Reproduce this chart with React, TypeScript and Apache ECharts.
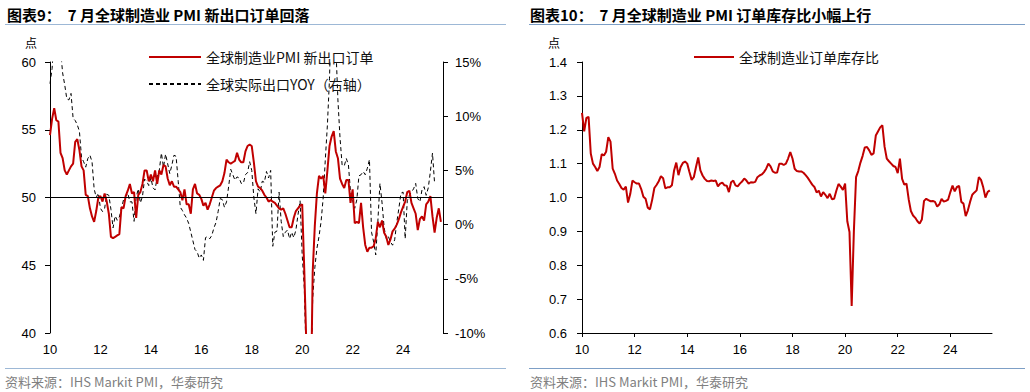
import React, { useEffect, useRef } from "react";
import * as echarts from "echarts";

// ---------- data ----------
const startYear = 2010;
const monthCount = 188; // Jan 2010 .. Aug 2025 (last slot is axis padding)
const months: string[] = [];
for (let k = 0; k < monthCount; k++) {
  const y = startYear + Math.floor(k / 12);
  const m = (k % 12) + 1;
  months.push(`${y}-${m < 10 ? "0" + m : m}`);
}

// 全球制造业PMI 新出口订单 (点), Jan 2010 – Jul 2025
const pmiNewExportOrders = [
  54.6, 55.8, 56.6, 55.7, 55.6, 53.3, 52.9, 52.0, 51.7, 52.0, 52.3, 52.5,
  54.1, 54.3, 53.5, 52.3, 52.0, 50.2, 50.1, 49.2, 48.6, 48.2, 49.0, 50.0,
  50.1, 49.7, 50.3, 49.7, 48.8, 47.1, 47.0, 47.1, 47.2, 47.3, 49.3, 49.2,
  50.1, 50.5, 51.0, 50.3, 50.4, 48.5, 50.2, 50.4, 51.0, 52.0, 52.0, 51.2,
  51.7, 51.2, 52.0, 51.0, 52.0, 51.7, 52.4, 52.3, 51.4, 50.9, 51.2, 50.8,
  50.8, 50.6, 50.4, 49.8, 50.6, 49.5, 49.5, 48.8, 50.6, 51.0, 50.3, 50.2,
  49.9, 49.4, 49.6, 49.1, 49.5, 50.0, 50.5, 50.7, 50.8, 50.9, 51.2, 51.8,
  52.8, 52.6, 52.5, 52.6, 52.7, 53.3, 52.8, 52.6, 52.6, 53.4, 53.8, 53.9,
  53.8, 52.6, 51.2, 50.8, 50.7, 50.5, 50.2, 50.0, 49.7, 49.8, 49.7, 49.6,
  49.4, 49.2, 49.1, 49.2, 48.8, 48.3, 47.8, 47.8, 48.5, 49.0, 49.2, 49.4,
  49.5, 44.6, 39.0, 28.5, 33.5, 44.5, 47.9, 50.3, 51.6, 51.4, 51.6, 50.3,
  52.0, 53.8, 54.5, 54.9, 53.4, 52.9, 51.4, 51.0, 50.7, 51.3, 51.3, 49.6,
  50.6, 48.1, 48.2, 48.1, 49.6, 47.8, 46.5, 46.0, 46.3, 46.3, 46.4, 47.0,
  48.2, 47.8, 48.3, 47.4, 47.1, 46.5, 46.9, 47.5, 47.7, 48.0, 48.4, 48.9,
  49.3, 49.7, 50.4, 50.5, 49.6, 49.2, 48.8, 47.6, 48.4, 48.6, 48.3, 49.5,
  49.7, 50.1, 48.6, 47.4, 48.5, 49.2, 48.2,
];

// 全球实际出口YOY (%), Jan 2010 – Apr 2025
const realExportYoY = [
  13.0, 14.4, 17.5, 18.0, 17.0, 16.2, 14.0, 12.9, 11.6, 11.5, 12.1, 9.8,
  9.6, 9.2, 8.6, 6.2, 5.8, 5.3, 6.1, 6.4, 5.8, 3.3, 2.5, 2.9,
  1.5, 1.2, 1.5, 2.8, 2.7, 1.4, -0.3, 0.8, 0.4, 0.7, 1.5, 2.3,
  2.6, 2.9, 2.1, 2.1, 0.3, 2.5, 3.3, 2.0, 2.6, 4.2, 4.0, 3.6,
  4.3, 3.4, 3.2, 4.4, 5.0, 6.6, 5.3, 6.5, 5.6, 4.7, 5.5, 6.4,
  6.3, 4.0, 1.6, 1.3, 0.9, 0.6, 0.1, -0.7, -1.5, -2.3, -2.5, -3.1,
  -2.8, -3.3, -1.2, -1.1, -1.3, -1.0, -0.3, 0.2, 1.2, 2.4, 2.3, 1.6,
  2.1, 3.5, 5.1, 4.6, 4.1, 4.4, 4.3, 3.8, 3.8, 4.6, 4.8, 5.8,
  5.0, 2.5, 1.0, 3.3, 3.0, 4.0, 3.9, 4.9, 4.3, 5.0, -2.0, -0.7,
  -0.6, 3.0, 0.3, -1.1, -0.7, -0.5, -1.3, -0.7, -1.2, -0.5, 0.9, 2.2,
  -2.8, -5.8, -13.0, -19.0, -16.0, -6.8, -4.0, -2.2, -1.1, 0.3, 2.5, 6.0,
  9.2, 13.5, 21.0, 27.0, 16.5, 11.5, 8.0, 5.5, 5.4, 6.1, 5.5, 3.0,
  2.2, 1.5, 2.3, 4.5, 4.6, 4.9, 4.6, 5.2, 6.0, -0.7, -1.6, -2.8,
  0.3, 3.8, 2.0, -0.3, -1.3, -1.1, -1.6, -1.9, -1.4, 0.2, 1.5, 2.9,
  3.0, -1.3, 2.2, 2.7, 3.0, 3.3, 3.8, 2.4, 2.1, 3.2, 3.5, 2.7,
  3.4, 4.9, 6.6, 3.8,
];

// 全球制造业订单库存比, Jan 2010 – Jul 2025
const orderInventoryRatio = [
  1.25, 1.195, 1.235, 1.238, 1.13, 1.1, 1.09, 1.078, 1.09, 1.128, 1.124, 1.135,
  1.178, 1.165, 1.085, 1.07, 1.05, 1.04, 1.028, 1.023, 1.032, 0.985, 1.01, 1.05,
  1.045, 1.041, 1.041, 1.025, 1.002, 0.996, 0.97, 0.965, 0.993, 1.028, 1.037, 1.048,
  1.063, 1.057, 1.027, 1.03, 1.03, 1.036, 1.08, 1.103, 1.066, 1.09, 1.102, 1.106,
  1.1, 1.075, 1.052, 1.06, 1.09, 1.118, 1.08, 1.065, 1.055, 1.049, 1.048, 1.05,
  1.049, 1.05, 1.033, 1.041, 1.044, 1.036, 1.035, 1.016, 1.045, 1.05, 1.036, 1.033,
  1.041, 1.047, 1.056, 1.05, 1.041, 1.045, 1.044, 1.046, 1.06, 1.065, 1.068, 1.075,
  1.085, 1.1, 1.092, 1.077, 1.073, 1.074, 1.1, 1.1, 1.096, 1.1, 1.115, 1.134,
  1.115, 1.085, 1.078, 1.077, 1.077, 1.073, 1.066, 1.058, 1.048, 1.038, 1.031, 1.015,
  1.02, 1.003, 1.016, 1.008, 0.998, 1.011, 0.995, 0.996, 1.02, 1.04, 1.032, 1.022,
  1.041, 0.93, 0.898, 0.68, 0.9, 1.06, 1.078, 1.103, 1.123, 1.148, 1.149, 1.139,
  1.126, 1.13, 1.183, 1.195, 1.207, 1.213, 1.15, 1.115, 1.107, 1.1, 1.093, 1.09,
  1.072, 1.115, 1.055, 1.038, 1.041, 0.995, 0.96, 0.947, 0.94, 0.93, 0.923, 0.935,
  0.99, 0.996, 0.992, 0.989, 0.99, 0.987, 0.973, 0.98, 0.996, 0.988, 0.99, 0.994,
  1.016, 1.035, 1.018, 1.031, 1.034, 0.987, 0.982, 0.945, 0.962, 0.987, 1.008, 1.015,
  1.021, 1.06, 1.052, 1.03, 1.0, 1.016, 1.021,
];

const leftTitle = "图表9：  7 月全球制造业 PMI 新出口订单回落";
const rightTitle = "图表10：  7 月全球制造业 PMI 订单库存比小幅上行";
const sourceText = "资料来源：IHS Markit PMI，华泰研究";
const pmiName = "全球制造业PMI 新出口订单";
const yoyName = "全球实际出口YOY（右轴）";
const ratioName = "全球制造业订单库存比";

const RED = "#C00000";
const FONT = '"Liberation Sans", Arial, "Noto Sans CJK SC", sans-serif';
const CJK = '"Noto Sans CJK SC", "Liberation Sans", sans-serif';

export default function App() {
  const ref = useRef<HTMLDivElement>(null);

  useEffect(() => {
    if (!ref.current) return;
    const chart = echarts.init(ref.current, undefined, { renderer: "svg" });

    const labelEvery2y = (idx: number) => idx % 24 === 0;
    const axisLabelBase = {
      color: "#000",
      fontSize: 13,
      fontFamily: FONT,
    };

    const option: any = {
      animation: false,
      backgroundColor: "#fff",
      grid: [
        { left: 50, top: 62, width: 393, height: 271 },
        { left: 582, top: 62, width: 410, height: 271 },
      ],
      legend: [
        {
          data: [pmiName, yoyName],
          orient: "vertical",
          left: 143,
          top: 45,
          itemWidth: 52,
          itemHeight: 14,
          itemGap: 13,
          itemStyle: { opacity: 0 },
          textStyle: { fontSize: 14, color: "#111", fontFamily: CJK },
        },
        {
          data: [ratioName],
          orient: "vertical",
          left: 688,
          top: 45,
          itemWidth: 40,
          itemHeight: 14,
          itemStyle: { opacity: 0 },
          textStyle: { fontSize: 14, color: "#111", fontFamily: CJK },
        },
      ],
      xAxis: [
        {
          type: "category",
          gridIndex: 0,
          data: months,
          boundaryGap: false,
          axisLine: { show: false },
          axisTick: { show: false },
          axisLabel: {
            ...axisLabelBase,
            interval: labelEvery2y,
            margin: 10,
            formatter: (v: string) => v.slice(2, 4),
          },
          splitLine: { show: false },
        },
        {
          type: "category",
          gridIndex: 1,
          data: months,
          boundaryGap: false,
          axisLine: { show: true, lineStyle: { color: "#000", width: 1 } },
          axisTick: { show: true, interval: labelEvery2y, length: 4, lineStyle: { color: "#000" } },
          axisLabel: {
            ...axisLabelBase,
            interval: labelEvery2y,
            margin: 10,
            formatter: (v: string) => v.slice(2, 4),
          },
          splitLine: { show: false },
        },
      ],
      yAxis: [
        {
          type: "value",
          gridIndex: 0,
          min: 40,
          max: 60,
          interval: 5,
          axisLine: { show: true, lineStyle: { color: "#000" } },
          axisTick: { show: true, length: 5, lineStyle: { color: "#000" } },
          axisLabel: { ...axisLabelBase, margin: 14 },
          splitLine: { show: false },
        },
        {
          type: "value",
          gridIndex: 0,
          position: "right",
          min: -10,
          max: 15,
          interval: 5,
          axisLine: { show: true, lineStyle: { color: "#000" } },
          axisTick: { show: true, length: 5, lineStyle: { color: "#000" } },
          axisLabel: { ...axisLabelBase, margin: 12, formatter: "{value}%" },
          splitLine: { show: false },
        },
        {
          type: "value",
          gridIndex: 1,
          min: 0.6,
          max: 1.4,
          interval: 0.1,
          axisLine: { show: true, lineStyle: { color: "#000" } },
          axisTick: { show: true, length: 5, lineStyle: { color: "#000" } },
          axisLabel: {
            ...axisLabelBase,
            margin: 15,
            formatter: (v: number) => v.toFixed(1),
          },
          splitLine: { show: false },
        },
      ],
      series: [
        {
          name: pmiName,
          type: "line",
          xAxisIndex: 0,
          yAxisIndex: 0,
          data: pmiNewExportOrders,
          symbol: "none",
          lineStyle: { color: RED, width: 2 },
          itemStyle: { color: RED },
          z: 3,
          markLine: {
            silent: true,
            symbol: "none",
            label: { show: false },
            lineStyle: { color: "#000", width: 1, type: "solid" },
            data: [{ yAxis: 50 }],
          },
        },
        {
          name: yoyName,
          type: "line",
          xAxisIndex: 0,
          yAxisIndex: 1,
          data: realExportYoY,
          symbol: "none",
          lineStyle: { color: "#000", width: 1, type: [4, 3] },
          itemStyle: { color: "#000" },
          z: 2,
        },
        {
          name: ratioName,
          type: "line",
          xAxisIndex: 1,
          yAxisIndex: 2,
          data: orderInventoryRatio,
          symbol: "none",
          lineStyle: { color: RED, width: 2 },
          itemStyle: { color: RED },
        },
      ],
      graphic: [
        {
          type: "text",
          x: 7,
          y: 14,
          style: {
            text: leftTitle,
            fontSize: 15,
            fontWeight: "bold",
            fontFamily: CJK,
            fill: "#000",
            verticalAlign: "middle",
          },
        },
        {
          type: "text",
          x: 530,
          y: 14,
          style: {
            text: rightTitle,
            fontSize: 15,
            fontWeight: "bold",
            fontFamily: CJK,
            fill: "#000",
            verticalAlign: "middle",
          },
        },
        { type: "line", shape: { x1: 5, y1: 24.5, x2: 506, y2: 24.5 }, style: { stroke: "#9db8d6", lineWidth: 1 } },
        { type: "line", shape: { x1: 529, y1: 24.5, x2: 1025, y2: 24.5 }, style: { stroke: "#7d9fc6", lineWidth: 1.2 } },
        { type: "line", shape: { x1: 5, y1: 368.5, x2: 506, y2: 368.5 }, style: { stroke: "#9db8d6", lineWidth: 1 } },
        { type: "line", shape: { x1: 529, y1: 368.5, x2: 1025, y2: 368.5 }, style: { stroke: "#7d9fc6", lineWidth: 1.2 } },
        {
          type: "text",
          x: 5,
          y: 381,
          style: { text: sourceText, fontSize: 13, fontFamily: CJK, fill: "#808080", verticalAlign: "middle" },
        },
        {
          type: "text",
          x: 530,
          y: 381,
          style: { text: sourceText, fontSize: 13, fontFamily: CJK, fill: "#808080", verticalAlign: "middle" },
        },
        {
          type: "text",
          x: 31,
          y: 42,
          style: { text: "点", fontSize: 12, fontFamily: CJK, fill: "#000", align: "center", verticalAlign: "middle" },
        },
        {
          type: "text",
          x: 554,
          y: 42,
          style: { text: "点", fontSize: 12, fontFamily: CJK, fill: "#000", align: "center", verticalAlign: "middle" },
        },
      ],
    };

    chart.setOption(option);
    return () => chart.dispose();
  }, []);

  return (
    <div
      ref={ref}
      style={{ position: "absolute", left: 0, top: 0, width: 1030, height: 392, background: "#fff" }}
    />
  );
}
